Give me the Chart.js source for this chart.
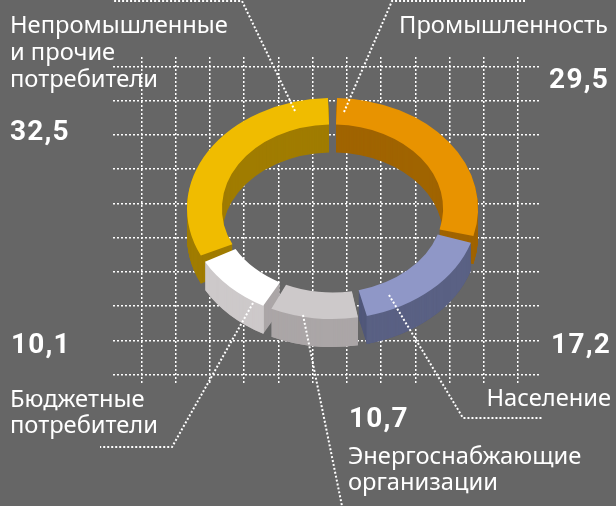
<!DOCTYPE html>
<html>
<head>
<meta charset="utf-8">
<style>
html, body { margin: 0; padding: 0; background: #666666; }
canvas { display: block; }
</style>
<script src="https://cdn.jsdelivr.net/npm/chart.js@4"></script>
</head>
<body>
<canvas id="ringChart" width="616" height="506"></canvas>
<script>
// shares in percent, clockwise from the top
var categories = ['Промышленность', 'Население', 'Энергоснабжающие организации', 'Бюджетные потребители', 'Непромышленные и прочие потребители'];
var shares = [29.5, 17.2, 10.7, 10.1, 32.5];
var valueLabels = ['29,5', '17,2', '10,7', '10,1', '32,5'];

var faceColors = ['#e89300', '#8f97c7', '#cdc9ca', '#ffffff', '#f0bc00'];
var wallColors = ['#a06400', '#5a6184', '#aba6a7', '#cdc9ca', '#a07c00'];
var endColors = ['#a06400', '#51587a', '#aba6a7', '#aba6a7', '#a07c00'];
var paintOrder = [4, 0, 1, 3, 2];

var gridX = [142, 176, 210, 244, 279, 313, 347, 381, 416, 450, 484, 518];
var gridY = [67, 101, 135, 169, 204, 238, 272, 306, 341, 375];

var leaders = [
    [{x: 295, y: 111}, {x: 242, y: 1}, {x: 113, y: 1}],
    [{x: 344, y: 112}, {x: 392, y: 1}, {x: 525, y: 1}],
    [{x: 389, y: 295}, {x: 463, y: 418}, {x: 543, y: 418}],
    [{x: 303, y: 315}, {x: 342, y: 506}],
    [{x: 253, y: 303}, {x: 172, y: 447}, {x: 100, y: 447}]
];

// text, x, baseline, align
var captions = [
    ['Непромышленные', 10, 33, 'left'],
    ['и прочие', 10, 60, 'left'],
    ['потребители', 10, 87, 'left'],
    ['Промышленность', 608, 33, 'right'],
    ['Бюджетные', 10, 407, 'left'],
    ['потребители', 10, 433, 'left'],
    ['Население', 611, 406, 'right'],
    ['Энергоснабжающие', 348, 464, 'left'],
    ['организации', 348, 490, 'left']
];
var valuePlaces = [[609, 88, 'right'], [611, 353, 'right'], [349, 427, 'left'], [11, 353, 'left'], [10, 140, 'left']];

var ringX = 332.5, ringY = 208.5, tilt = 0.76, depth = 28, gap = 8;

function shaded(arc, color, inner) {
    var copy = Object.create(arc);
    // chart.js spacing shrinks arcs by their angle, so trim them evenly here instead
    var trim = gap / (arc.outerRadius + arc.innerRadius);
    copy.startAngle = arc.startAngle + trim;
    copy.endAngle = arc.endAngle - trim;
    copy.options = {
        backgroundColor: color, borderColor: color, borderWidth: 0, borderAlign: 'center',
        borderRadius: 0, spacing: 0, offset: 0, circular: true
    };
    if (inner) copy.innerRadius = inner;
    return copy;
}

function place(ctx, arc, drop) {
    ctx.save();
    ctx.translate(ringX, ringY + drop);
    ctx.scale(1, tilt);
    ctx.translate(-arc.x, -arc.y);
}

var tiltedRing = {
    id: 'tiltedRing',
    beforeDatasetDraw: function (chart, args) {
        if (args.meta.type !== 'doughnut') return;
        var ctx = chart.ctx;
        paintOrder.forEach(function (i) {
            var arc = args.meta.data[i];
            var end = shaded(arc, endColors[i]);
            var rim = shaded(arc, wallColors[i], arc.outerRadius - 2);
            var d;
            for (d = depth; d > 0; d--) {
                place(ctx, arc, d);
                end.draw(ctx);
                ctx.restore();
            }
            for (d = depth; d > 0; d--) {
                place(ctx, arc, d);
                rim.draw(ctx);
                ctx.restore();
            }
            place(ctx, arc, 0);
            shaded(arc, faceColors[i]).draw(ctx);
            ctx.restore();
        });
        return false;
    },
    afterDraw: function (chart) {
        var ctx = chart.ctx;
        ctx.save();
        ctx.fillStyle = '#ffffff';
        ctx.textBaseline = 'alphabetic';
        ctx.font = '23.7px "Noto Sans"';
        captions.forEach(function (c) {
            ctx.textAlign = c[3];
            ctx.fillText(c[0], c[1], c[2]);
        });
        ctx.font = 'bold 28px Roboto';
        ctx.letterSpacing = '1.2px';
        valueLabels.forEach(function (v, i) {
            ctx.textAlign = valuePlaces[i][2];
            ctx.fillText(v, valuePlaces[i][0], valuePlaces[i][1]);
        });
        ctx.restore();
    }
};

// weight 0 keeps the line sets from taking a share of the ring thickness
var leaderSets = leaders.map(function (pts) {
    return {
        type: 'line', data: pts, order: 1, clip: false, fill: false, tension: 0, weight: 0,
        borderColor: '#ffffff', borderWidth: 2, borderDash: [2, 2], pointRadius: 0
    };
});

function axis(ticks, min, max, reverse) {
    return {
        type: 'linear', min: min, max: max, reverse: reverse,
        afterBuildTicks: function (scale) {
            scale.ticks = ticks.map(function (v) { return {value: v}; });
        },
        ticks: {display: false, autoSkip: false},
        border: {display: false, dash: [2, 2]},
        grid: {color: '#ffffff', lineWidth: 1.5, drawTicks: false}
    };
}

var chart = new Chart(document.getElementById('ringChart'), {
    type: 'scatter',
    data: {
        labels: categories,
        datasets: leaderSets.concat([{
            type: 'doughnut',
            data: shares,
            order: 2,
            backgroundColor: faceColors,
            borderWidth: 0,
            radius: 145.5,
            cutout: '76%'
        }])
    },
    options: {
        responsive: false,
        animation: false,
        events: [],
        layout: {padding: {left: 113, right: 75, top: 57, bottom: 122}},
        plugins: {legend: {display: false}, tooltip: {enabled: false}},
        scales: {
            x: axis(gridX, 113, 541, false),
            y: axis(gridY, 57, 384, true)
        }
    },
    plugins: [tiltedRing]
});
</script>
</body>
</html>
